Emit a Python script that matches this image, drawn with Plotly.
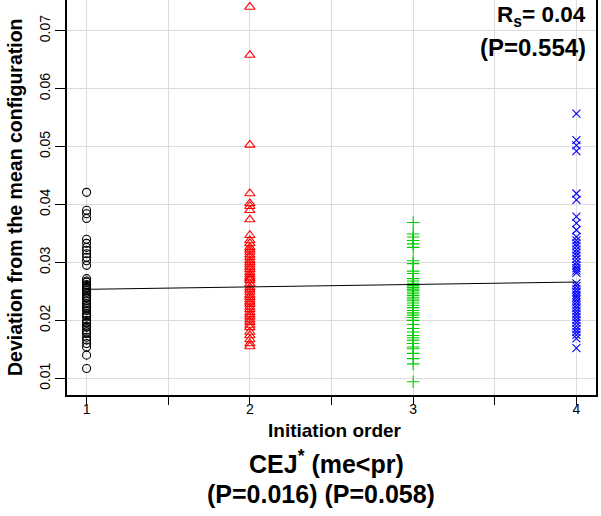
import plotly.graph_objects as go

# ---------------- data ----------------
order_1 = [0.0421, 0.0390, 0.0384, 0.0376, 0.0340, 0.0333, 0.0326, 0.0321, 0.0315, 0.0309,
           0.0303, 0.0295, 0.0272, 0.0268, 0.0266, 0.0262, 0.0260, 0.0257, 0.0255, 0.0252,
           0.0249, 0.0246, 0.0243, 0.0240, 0.0238, 0.0234, 0.0229, 0.0226, 0.0223, 0.0220,
           0.0217, 0.0212, 0.0209, 0.0206, 0.0200, 0.0197, 0.0195, 0.0190, 0.0188, 0.0183,
           0.0180, 0.0177, 0.0171, 0.0166, 0.0160, 0.0154, 0.0140, 0.0117]
order_2 = [0.0741, 0.0658, 0.0503, 0.0419, 0.0402, 0.0397, 0.0390, 0.0374, 0.0347, 0.0338,
           0.0333, 0.0326, 0.0322, 0.0318, 0.0313, 0.0309, 0.0304, 0.0300, 0.0296, 0.0292,
           0.0288, 0.0283, 0.0279, 0.0275, 0.0272, 0.0269, 0.0263, 0.0257, 0.0253, 0.0249,
           0.0244, 0.0240, 0.0236, 0.0232, 0.0228, 0.0223, 0.0219, 0.0214, 0.0210, 0.0206,
           0.0201, 0.0197, 0.0192, 0.0188, 0.0180, 0.0174, 0.0167, 0.0160, 0.0155]
order_3 = [0.0369, 0.0349, 0.0344, 0.0338, 0.0332, 0.0326, 0.0303, 0.0298, 0.0285, 0.0281,
           0.0272, 0.0268, 0.0264, 0.0260, 0.0257, 0.0254, 0.0252, 0.0249, 0.0246, 0.0243,
           0.0240, 0.0237, 0.0234, 0.0230, 0.0226, 0.0222, 0.0217, 0.0213, 0.0209, 0.0205,
           0.0200, 0.0193, 0.0186, 0.0180, 0.0174, 0.0170, 0.0166, 0.0160, 0.0154, 0.0151,
           0.0143, 0.0134, 0.0125, 0.0094]
order_4 = [0.0557, 0.0511, 0.0502, 0.0492, 0.0419, 0.0408, 0.0379, 0.0368, 0.0356, 0.0344,
           0.0338, 0.0333, 0.0328, 0.0322, 0.0317, 0.0312, 0.0306, 0.0300, 0.0295, 0.0290,
           0.0286, 0.0282, 0.0264, 0.0259, 0.0254, 0.0249, 0.0244, 0.0240, 0.0236, 0.0231,
           0.0226, 0.0221, 0.0216, 0.0211, 0.0206, 0.0201, 0.0196, 0.0190, 0.0185, 0.0180,
           0.0175, 0.0169, 0.0152]

groups = [1, 2, 3, 4]
fit_intercept = 0.02494
fit_slope = 0.00042

x_tickvals = [1, 2, 3, 4]
x_ticktext = ["1", "2", "3", "4"]
x_minor_tickvals = [1.5, 2.5, 3.5]
y_tickvals = [0.01, 0.02, 0.03, 0.04, 0.05, 0.06, 0.07]
y_ticktext = ["0.01", "0.02", "0.03", "0.04", "0.05", "0.06", "0.07"]

# ---------------- figure ----------------
FONT = "Liberation Sans, Arial, sans-serif"
GRID = "#DCDCDC"
styles = [
    ("circle-open", "#000000", 8),
    ("triangle-up-open", "#FF0000", 9),
    ("cross-thin-open", "#00CD00", 9),
    ("x-thin-open", "#0000FF", 8),
]
fig = go.Figure()
for g, vals, (sym, col, sz) in zip(groups, [order_1, order_2, order_3, order_4], styles):
    fig.add_trace(go.Scatter(
        x=[g] * len(vals), y=vals, mode="markers",
        marker=dict(symbol=sym, size=sz, color=col, line=dict(color=col, width=1.1)),
        showlegend=False, hoverinfo="skip"))

line_x = [groups[0], groups[-1]]
line_y = [fit_intercept + fit_slope * v for v in line_x]
fig.add_trace(go.Scatter(x=line_x, y=line_y, mode="lines",
                         line=dict(color="black", width=1), showlegend=False, hoverinfo="skip"))

L, R, T, B = 67, 5, 0, 121
PW, PH = 601 - L - R, 516 - T - B

def px(xp):
    return (xp - L) / PW

def py(yp):
    return (PH - yp) / PH

fig.update_layout(
    width=601, height=516,
    margin=dict(l=L, r=R, t=T, b=B, pad=0, autoexpand=False),
    paper_bgcolor="white", plot_bgcolor="white",
    font=dict(family=FONT, color="black"),
    xaxis=dict(range=[0.88, 4.12], tickmode="array", tickvals=x_tickvals, ticktext=x_ticktext,
               ticks="outside", ticklen=8, tickwidth=1.2, tickcolor="black",
               minor=dict(tickmode="array", tickvals=x_minor_tickvals, ticks="outside",
                          ticklen=8, tickwidth=1.2, tickcolor="black",
                          showgrid=True, gridcolor=GRID, gridwidth=1),
               showline=True, linecolor="black", linewidth=1.5, mirror=False,
               showgrid=True, gridcolor=GRID, gridwidth=1, zeroline=False,
               ticklabelstandoff=-8,
               automargin=False, tickfont=dict(size=14, family=FONT)),
    yaxis=dict(range=[0.00712, 0.0753], tickmode="array", tickvals=y_tickvals, ticktext=y_ticktext,
               tickangle=-90, ticks="outside", ticklen=10, tickwidth=1.2, tickcolor="black",
               showline=True, linecolor="black", linewidth=1.5, mirror=True,
               showgrid=True, gridcolor=GRID, gridwidth=1, zeroline=False,
               automargin=False, tickfont=dict(size=14, family=FONT)),
)

ann = [
    dict(text="<b>Deviation from the mean configuration</b>", x=px(15), y=py(197),
         textangle=-90, font=dict(size=19.5)),
    dict(text="<b>Initiation order</b>", x=px(335), y=py(430), font=dict(size=19)),
    dict(text="<b>CEJ<sup>*</sup> (me&lt;pr)</b>", x=px(326), y=py(462), font=dict(size=25)),
    dict(text="<b>(P=0.016) (P=0.058)</b>", x=px(321), y=py(494), font=dict(size=25)),
    dict(text="<b>R<sub>s</sub>= 0.04</b>", x=px(588), y=py(16), xanchor="right", font=dict(size=22.5)),
    dict(text="<b>(P=0.554)</b>", x=px(588), y=py(48), xanchor="right", font=dict(size=24)),
]
for a in ann:
    a.setdefault("xanchor", "center")
    a.update(xref="paper", yref="paper", yanchor="middle", showarrow=False)
    a["font"]["family"] = FONT
    a["font"]["color"] = "black"
fig.update_layout(annotations=ann)

fig.write_html("out.html", config={"displayModeBar": False},
               post_script="document.body.style.margin='0';document.body.style.overflow='hidden';")
